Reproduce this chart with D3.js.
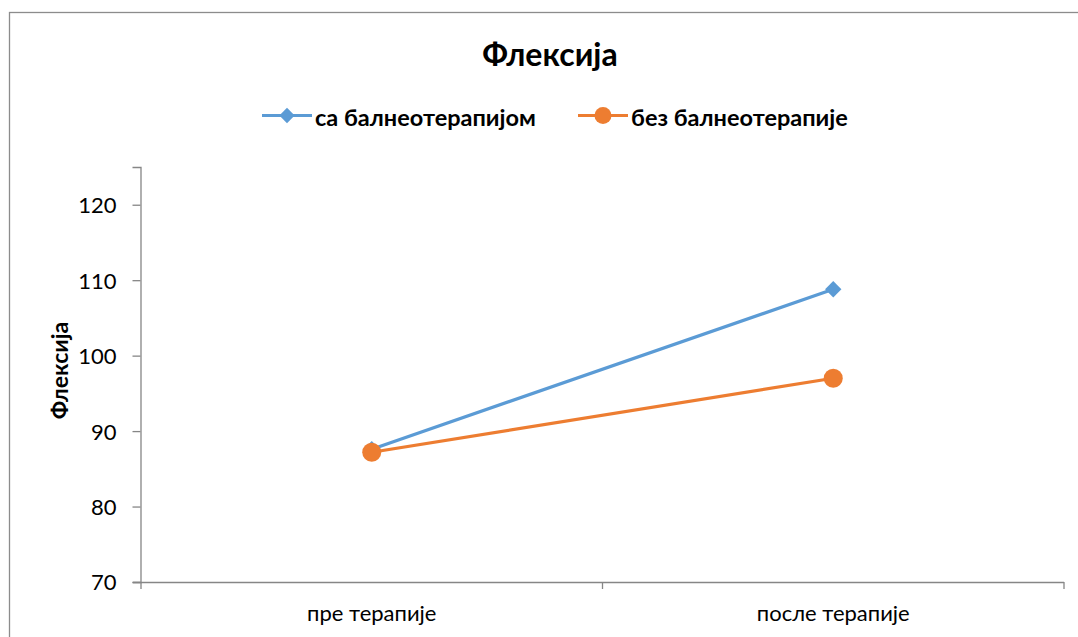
<!DOCTYPE html>
<html>
<head>
<meta charset="utf-8">
<script src="https://cdn.jsdelivr.net/npm/d3@7"></script>
<style>
  body { margin: 0; background: #fff; }
  svg { display: block; font-family: Lato, "Open Sans", sans-serif; }
</style>
</head>
<body>
<svg id="chart" width="1078" height="637"></svg>
<script>
// data
const categories = ["пре терапије", "после терапије"];
const seriesNames = ["са балнеотерапијом", "без балнеотерапије"];
const withBalneo = [87.6, 108.8];
const withoutBalneo = [87.2, 97.0];
const yTicks = [70, 80, 90, 100, 110, 120];

const colors = ["#5b9bd5", "#ed7d31"];
const svg = d3.select("#chart");

// outer chart border
svg.append("rect")
  .attr("x", 9.5).attr("y", 12.5)
  .attr("width", 1100).attr("height", 700)
  .attr("fill", "none").attr("stroke", "#8c8c8c").attr("stroke-width", 1.3);

const plot = {left: 141, right: 1064, top: 167, bottom: 582};

const x = d3.scaleBand().domain(categories).range([plot.left, plot.right]);
const y = d3.scaleLinear().domain([70, 125]).range([plot.bottom, plot.top]);

// y axis
const yAxis = d3.axisLeft(y).tickValues(yTicks).tickSize(8).tickPadding(16);
const gy = svg.append("g").attr("transform", `translate(${plot.left - 0.5},0)`).call(yAxis);
gy.select(".domain").attr("stroke", "#868686").attr("stroke-width", 1.3);
gy.selectAll(".tick line").attr("stroke", "#868686").attr("stroke-width", 1.3);
gy.selectAll(".tick text").attr("font-size", 22).attr("fill", "#000")
  .attr("font-family", "Lato, sans-serif").attr("dy", "0.36em");

// x axis line and tick marks at category boundaries
svg.append("line")
  .attr("x1", plot.left - 8).attr("x2", plot.right)
  .attr("y1", plot.bottom + 0.5).attr("y2", plot.bottom + 0.5)
  .attr("stroke", "#868686").attr("stroke-width", 1.3);
const bounds = categories.map(c => x(c)).concat([x(categories[categories.length - 1]) + x.bandwidth()]);
svg.selectAll(".xtick").data(bounds).enter().append("line")
  .attr("class", "xtick")
  .attr("x1", d => d).attr("x2", d => d)
  .attr("y1", plot.bottom).attr("y2", plot.bottom + 7)
  .attr("stroke", "#868686").attr("stroke-width", 1.3);
svg.selectAll(".xlabel").data(categories).enter().append("text")
  .attr("class", "xlabel")
  .attr("x", d => x(d) + x.bandwidth() / 2)
  .attr("y", 621)
  .attr("text-anchor", "middle")
  .attr("font-size", 22)
  .text(d => d);

// axis title
svg.append("text")
  .attr("transform", `translate(68,${(plot.top + plot.bottom) / 2 - 4}) rotate(-90)`)
  .attr("text-anchor", "middle")
  .attr("font-size", 23).attr("font-weight", "bold")
  .text("Флексија");

// chart title
svg.append("text")
  .attr("x", 550).attr("y", 66)
  .attr("text-anchor", "middle")
  .attr("font-size", 32).attr("font-weight", "bold")
  .text("Флексија");

// lines
const series = [withBalneo, withoutBalneo];
const cx = i => x(categories[i]) + x.bandwidth() / 2;
const line = d3.line().x((d, i) => cx(i)).y(d => y(d));

series.forEach((vals, s) => {
  svg.append("path").datum(vals)
    .attr("d", line)
    .attr("fill", "none")
    .attr("stroke", colors[s])
    .attr("stroke-width", 3.2)
    .attr("stroke-linecap", "round");
});

// markers
const diamond = d3.symbol().type(d3.symbolDiamond2).size(170);
svg.selectAll(".m0").data(withBalneo).enter().append("path")
  .attr("class", "m0")
  .attr("d", diamond)
  .attr("transform", (d, i) => `translate(${cx(i)},${y(d)})`)
  .attr("fill", colors[0]);
svg.selectAll(".m1").data(withoutBalneo).enter().append("circle")
  .attr("class", "m1")
  .attr("cx", (d, i) => cx(i)).attr("cy", d => y(d))
  .attr("r", 9.5)
  .attr("fill", colors[1]);

// legend
const legend = [
  {x: 262, name: seriesNames[0], color: colors[0], mark: "diamond"},
  {x: 578, name: seriesNames[1], color: colors[1], mark: "circle"}
];
const lg = svg.selectAll(".legend").data(legend).enter().append("g")
  .attr("class", "legend")
  .attr("transform", d => `translate(${d.x},115.5)`);
lg.append("line")
  .attr("x1", 0).attr("x2", 50)
  .attr("stroke", d => d.color).attr("stroke-width", 3.2);
lg.filter(d => d.mark === "diamond").append("path")
  .attr("d", d3.symbol().type(d3.symbolDiamond2).size(150))
  .attr("transform", "translate(25,0)")
  .attr("fill", d => d.color);
lg.filter(d => d.mark === "circle").append("circle")
  .attr("cx", 25).attr("r", 8.5)
  .attr("fill", d => d.color);
lg.append("text")
  .attr("x", 53).attr("y", 10.5)
  .attr("font-size", 23.5).attr("font-weight", "bold")
  .text(d => d.name);
</script>
</body>
</html>
